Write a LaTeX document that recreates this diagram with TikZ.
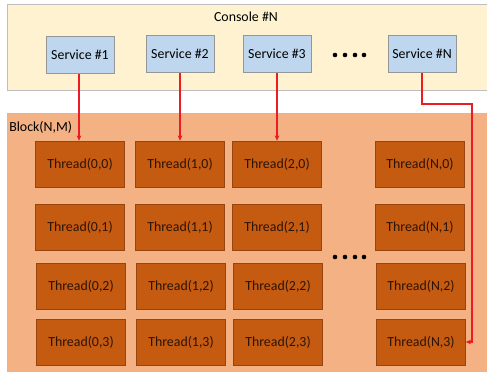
\documentclass[tikz,border=0pt]{standalone}
\usepackage{xcolor}
\usepackage{fontspec}
\setmainfont{Carlito}
\usepackage{tikz}
\usetikzlibrary{arrows.meta}

\definecolor{consolefill}{RGB}{254,242,208}
\definecolor{servicefill}{RGB}{190,215,238}
\definecolor{blockfill}{RGB}{244,178,132}
\definecolor{threadfill}{RGB}{197,90,17}
\definecolor{threadline}{RGB}{150,68,16}
\definecolor{threadtext}{RGB}{45,20,5}
\definecolor{linkred}{RGB}{235,28,36}

\tikzset{
    service/.style={draw={rgb,255:red,150;green,150;blue,150}, fill=servicefill, minimum width=68*0.75pt, minimum height=37*0.75pt, inner sep=0.75pt},
    thread/.style={draw=threadline, fill=threadfill, text=threadtext, minimum width=89*0.75pt, minimum height=46*0.75pt, inner sep=0.75pt},
    link/.style={draw=linkred, line width=1.3pt, -{Stealth[length=4pt,width=3.5pt]}}
}

\begin{document}
\begin{tikzpicture}[x=0.75pt,y=0.75pt,yscale=-1,xscale=1]
        \fontsize{10.4}{12}\selectfont
        \useasboundingbox (0,0) rectangle (487,373);

        % console and block areas
        \draw [draw={rgb,255:red,190;green,190;blue,190}, fill=consolefill] (7,4) rectangle (492,90);
        \draw [draw={rgb,255:red,190;green,190;blue,190}, fill=blockfill] (7,113) rectangle (492,371);
        \node [inner sep=0.75pt] (console) at (246,17) {Console \#N};
        \node [anchor=west, inner sep=0.75pt] (block) at (8,127) {Block(N,M)};

        % services
        \node [service] (s1) at (80,55) {Service \#1};
        \node [service] (s2) at (180,54) {Service \#2};
        \node [service] (s3) at (277,54) {Service \#3};
        \node [service] (sN) at (422,54) {Service \#N};

        % threads
        \foreach \c/\x in {0/80, 1/180, 2/277, N/420}{
            \node [thread] (t\c0) at (\x,164) {Thread(\c,0)};
            \node [thread] (t\c1) at (\x,227) {Thread(\c,1)};
            \node [thread] (t\c2) at (\x+1,286) {Thread(\c,2)};
            \node [thread] (t\c3) at (\x+1,342) {Thread(\c,3)};
        }

        % dots
        \foreach \x in {335,345,355,364}{
            \fill (\x,55) circle (2.3);
            \fill (\x,257) circle (2.3);
        }

        % links
        \coordinate (turn) at (472,104);
        \draw [link] (s1.south -| 79,0) -- (t00.north -| 79,0);
        \draw [link] (s2.south) -- (t10.north);
        \draw [link] (s3.south) -- (t20.north);
        \draw [link] (sN.south) |- (turn) |- (tN3.east);
\end{tikzpicture}
\end{document}
